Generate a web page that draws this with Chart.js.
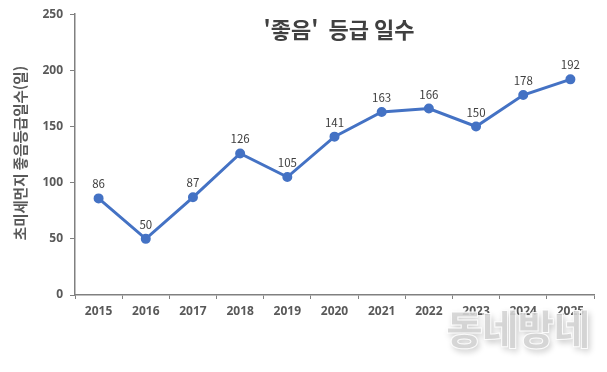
<!DOCTYPE html>
<html lang="ko">
<head>
<meta charset="utf-8">
<script src="https://cdn.jsdelivr.net/npm/chart.js@4"></script>
<style>
  html, body { margin: 0; padding: 0; background: #fff; }
  #wrap { position: relative; width: 607px; height: 372px; }
  #watermark {
    position: absolute; left: 446px; top: 298px;
    font-family: "Noto Sans CJK KR", sans-serif; font-weight: 900; font-size: 40px;
    color: rgba(212,212,212,0.9); letter-spacing: -1px;
    -webkit-text-stroke: 1px rgba(255,255,255,0.9);
    text-shadow: 2px 3px 6px rgba(0,0,0,0.22);
    pointer-events: none;
  }
</style>
</head>
<body>
<div id="wrap">
  <canvas id="grafico" width="607" height="372"></canvas>
  <div id="watermark">동네방네</div>
</div>
<script>
const anios = ["2015", "2016", "2017", "2018", "2019", "2020", "2021", "2022", "2023", "2024", "2025"];
const diasBuenos = [86, 50, 87, 126, 105, 141, 163, 166, 150, 178, 192];
const ticksY = [0, 50, 100, 150, 200, 250];
const titulo = "'좋음'  등급 일수";
const tituloY = "초미세먼지 좋음등급일수(일)";

const kfont = '"Noto Sans CJK KR", sans-serif';

// titulo, etiqueta del eje y y valores encima de los puntos
const extras = {
  id: "extras",
  afterDatasetsDraw(chart) {
    const ctx = chart.ctx;
    ctx.save();
    ctx.fillStyle = "#404040";
    ctx.font = "bold 22px " + kfont;
    ctx.textAlign = "center";
    ctx.textBaseline = "middle";
    ctx.fillText(titulo, 339, 30);

    ctx.save();
    ctx.translate(20, 153);
    ctx.rotate(-Math.PI / 2);
    ctx.font = "bold 14.5px " + kfont;
    ctx.fillStyle = "#595959";
    ctx.fillText(tituloY, 0, 0);
    ctx.restore();

    const meta = chart.getDatasetMeta(0);
    ctx.font = "11.5px " + kfont;
    ctx.fillStyle = "#404040";
    ctx.textBaseline = "alphabetic";
    meta.data.forEach((p, i) => {
      ctx.fillText(diasBuenos[i], p.x, p.y - 10);
    });
    ctx.restore();
  }
};

new Chart(document.getElementById("grafico").getContext("2d"), {
  type: "line",
  data: {
    labels: anios,
    datasets: [{
      data: diasBuenos,
      borderColor: "#4472C4",
      backgroundColor: "#4472C4",
      borderWidth: 3,
      pointRadius: 3.5,
      pointHoverRadius: 3.5,
      tension: 0
    }]
  },
  options: {
    responsive: false,
    animation: false,
    layout: { padding: { top: 14, right: 13, left: 0, bottom: 0 } },
    plugins: { legend: { display: false }, tooltip: { enabled: false } },
    scales: {
      x: {
        offset: true,
        grid: { offset: true, drawOnChartArea: false, tickLength: 4, color: "#808080" },
        border: { color: "#808080", width: 1.5 },
        ticks: { color: "#595959", font: { family: "Open Sans", weight: "bold", size: 12 }, padding: 5, maxRotation: 0 },
        afterFit: s => { s.height = 77; }
      },
      y: {
        min: 0, max: 250,
        afterBuildTicks: s => { s.ticks = ticksY.map(v => ({ value: v })); },
        grid: { drawOnChartArea: false, tickLength: 5, color: "#808080" },
        border: { color: "#808080", width: 1.5 },
        ticks: { color: "#595959", font: { family: "Open Sans", weight: "bold", size: 12 }, padding: 7 },
        afterFit: s => { s.width = 75; }
      }
    }
  },
  plugins: [extras]
});
</script>
</body>
</html>
